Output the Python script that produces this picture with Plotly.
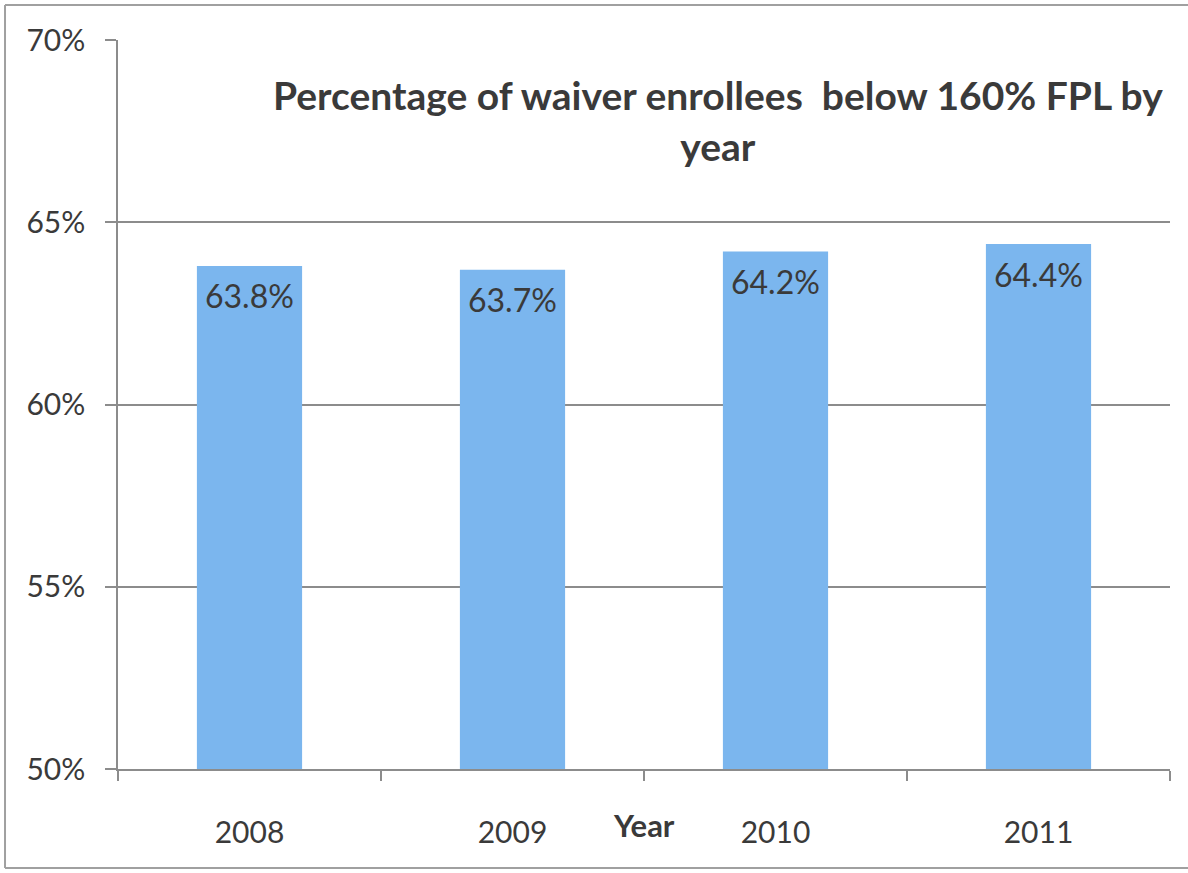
import plotly.graph_objects as go

years = ["2008", "2009", "2010", "2011"]
values = [63.8, 63.7, 64.2, 64.4]
y_ticks = [50, 55, 60, 65, 70]
y_tick_labels = ["50%", "55%", "60%", "65%", "70%"]
title_text = "Percentage of waiver enrollees\u00a0 below 160% FPL by<br>year"
x_title = "Year"

FONT = "Lato, 'Open Sans', sans-serif"
TXT = "#3a3a3a"
BAR = "#7bb6ee"
GRID = "#8c8c8c"

fig = go.Figure()
fig.add_trace(go.Bar(
    x=years, y=values,
    marker=dict(color=BAR, line=dict(width=0)),
    width=0.4, hoverinfo="x+y",
))

for i, yv in enumerate(values):
    fig.add_annotation(x=i, y=yv, text=f"{yv:.1f}%", showarrow=False,
                       yanchor="middle", yshift=-30,
                       font=dict(family=FONT, size=32, color=TXT))

fig.add_annotation(xref="paper", yref="paper", x=0.570, y=0.959, yanchor="top",
                   text=title_text, showarrow=False, align="center",
                   font=dict(family=FONT, size=39, color=TXT, weight="bold"))
fig.add_annotation(xref="paper", yref="paper", x=0.5, y=-0.077, yanchor="middle",
                   text=x_title, showarrow=False,
                   font=dict(family=FONT, size=31, color=TXT, weight="bold"))

# outer border (scanned frame)
border = dict(color="#a0a0a0", width=2)
fig.add_shape(type="line", xref="paper", yref="paper", x0=-0.1074, x1=-0.1074, y0=-0.1358, y1=1.048, line=border)
fig.add_shape(type="line", xref="paper", yref="paper", x0=-0.1074, x1=1.02, y0=1.048, y1=1.048, line=border)
fig.add_shape(type="line", xref="paper", yref="paper", x0=-0.1074, x1=1.02, y0=-0.1358, y1=-0.1358, line=border)

fig.update_layout(
    width=1188, height=873,
    margin=dict(l=118, r=18, t=40, b=104),
    paper_bgcolor="white", plot_bgcolor="white",
    showlegend=False,
    font=dict(family=FONT, size=30, color=TXT),
)
fig.update_xaxes(
    type="category", range=[-0.5, len(years) - 0.5], autorange=False,
    showgrid=False,
    showline=True, linecolor=GRID, linewidth=1.5,
    ticks="outside", tickson="boundaries", ticklen=10, tickcolor=GRID, tickwidth=1.5,
    ticklabelstandoff=36, tickangle=0,
    tickfont=dict(family=FONT, size=30, color=TXT),
)
fig.update_yaxes(
    range=[50, 70], tickvals=y_ticks, ticktext=y_tick_labels,
    showgrid=True, gridcolor=GRID, gridwidth=1.5,
    showline=True, linecolor=GRID, linewidth=1.5,
    ticks="outside", ticklen=11, tickcolor=GRID, tickwidth=1.5,
    ticklabelstandoff=14,
    tickfont=dict(family=FONT, size=30, color=TXT),
    zeroline=False,
)

fig.write_html("out.html")
